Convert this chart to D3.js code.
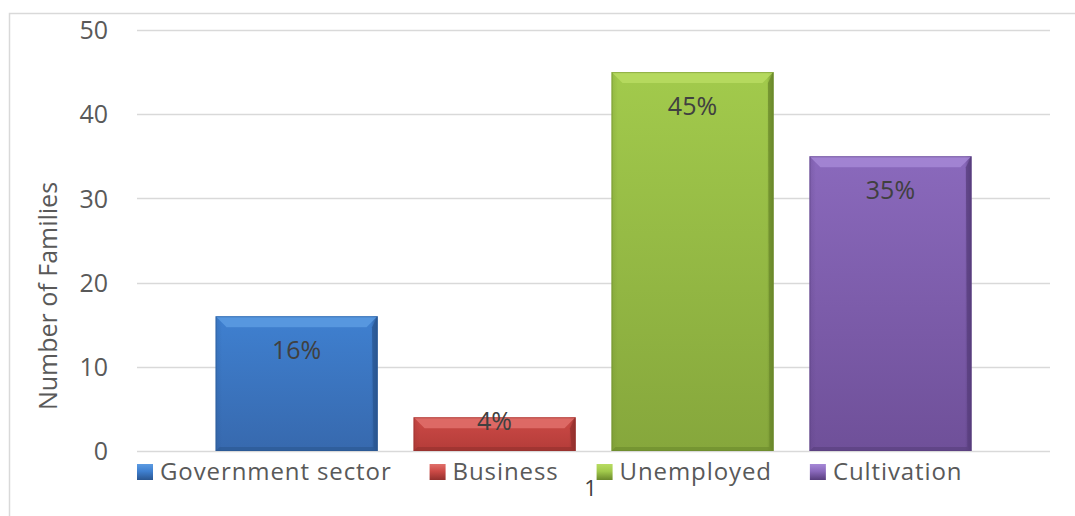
<!DOCTYPE html>
<html>
<head>
<meta charset="utf-8">
<script src="https://cdn.jsdelivr.net/npm/d3@7"></script>
<style>
  html, body { margin: 0; padding: 0; background: #ffffff; }
  svg { display: block; }
  text { font-family: "Open Sans", "DejaVu Sans", sans-serif; }
</style>
</head>
<body>
<svg id="chart" width="1075" height="516"></svg>
<script>
// Occupation of families: count per occupation, single category "1"
const categories = ["1"];
const series = ["Government sector", "Business", "Unemployed", "Cultivation"];
const values = [16, 4, 45, 35];
const percentLabels = ["16%", "4%", "45%", "35%"];
const yTicks = [0, 10, 20, 30, 40, 50];

// Bevel palette per series: [top bevel, fill top, fill bottom, edge]
const palette = [
  ["#5c9be2", "#3f80d0", "#3769ae", "#2a5690"],
  ["#e0706b", "#cc4a46", "#b43c39", "#93302d"],
  ["#b8dc62", "#a2ca4c", "#86a73c", "#6a882b"],
  ["#a688d6", "#8a69bc", "#6f5099", "#573d7c"]
];

const W = 1075, H = 516;
const plot = { left: 137, right: 1050, top: 30, bottom: 451 };

const svg = d3.select("#chart");
const defs = svg.append("defs");

// Chart area outline (top and left edges visible)
svg.append("rect")
  .attr("x", 9.5).attr("y", 13.5)
  .attr("width", W + 20).attr("height", H + 20)
  .attr("fill", "none").attr("stroke", "#d9d9d9").attr("stroke-width", 1.5);

const y = d3.scaleLinear().domain([0, 50]).range([plot.bottom, plot.top]);

const x0 = d3.scaleBand().domain(categories)
  .range([plot.left, plot.right]).paddingInner(0).paddingOuter(0.104);
const x1 = d3.scaleBand().domain(series)
  .range([0, x0.bandwidth()]).paddingInner(0.182).paddingOuter(0);

// Gridlines
svg.append("g").selectAll("line").data(yTicks).join("line")
  .attr("x1", plot.left).attr("x2", plot.right)
  .attr("y1", d => Math.round(y(d)) + 0.5).attr("y2", d => Math.round(y(d)) + 0.5)
  .attr("stroke", "#d9d9d9").attr("stroke-width", 1.5);

// Y axis labels
const yAxis = d3.axisLeft(y).tickValues(yTicks).tickSize(0).tickPadding(0);
const gy = svg.append("g").attr("transform", `translate(108,0)`).call(yAxis);
gy.select(".domain").remove();
gy.selectAll("text")
  .attr("fill", "#595959").attr("font-size", 25)
  .attr("dy", "0.35em")
  .style("font-family", "'Open Sans', sans-serif");

// Axis title
svg.append("text")
  .attr("transform", `translate(57,296) rotate(-90)`)
  .attr("text-anchor", "middle")
  .attr("fill", "#595959").attr("font-size", 25)
  .text("Number of Families");

// Gradients
series.forEach((s, i) => {
  const g = defs.append("linearGradient").attr("id", "fill" + i)
    .attr("x1", 0).attr("y1", 0).attr("x2", 0).attr("y2", 1);
  g.append("stop").attr("offset", "0%").attr("stop-color", palette[i][1]);
  g.append("stop").attr("offset", "100%").attr("stop-color", palette[i][2]);
  const h = defs.append("linearGradient").attr("id", "side" + i)
    .attr("x1", 0).attr("y1", 0).attr("x2", 1).attr("y2", 0);
  h.append("stop").attr("offset", "0%").attr("stop-color", palette[i][3]).attr("stop-opacity", 0.25);
  h.append("stop").attr("offset", "4%").attr("stop-color", palette[i][3]).attr("stop-opacity", 0);
  h.append("stop").attr("offset", "96%").attr("stop-color", palette[i][3]).attr("stop-opacity", 0);
  h.append("stop").attr("offset", "100%").attr("stop-color", palette[i][3]).attr("stop-opacity", 0.9);
});

const bars = series.map((s, i) => ({ name: s, value: values[i], label: percentLabels[i], i }));

const group = svg.append("g")
  .selectAll("g").data(categories).join("g")
  .attr("transform", d => `translate(${x0(d)},0)`);

const bar = group.selectAll("g.bar").data(bars).join("g").attr("class", "bar");

bar.each(function (d) {
  const g = d3.select(this);
  const bx = x1(d.name), bw = x1.bandwidth();
  const top = y(d.value), bot = y(0), bh = bot - top;
  const bev = Math.min(11, bh / 3);
  const side = 4;
  g.append("rect").attr("x", bx).attr("y", top).attr("width", bw).attr("height", bh)
    .attr("fill", `url(#fill${d.i})`);
  g.append("rect").attr("x", bx).attr("y", top).attr("width", bw).attr("height", bh)
    .attr("fill", `url(#side${d.i})`);
  // top bevel
  g.append("path")
    .attr("d", `M${bx},${top}L${bx + bw},${top}L${bx + bw - bev},${top + bev}L${bx + bev},${top + bev}Z`)
    .attr("fill", palette[d.i][0]).attr("opacity", 0.85);
  // bottom bevel
  g.append("path")
    .attr("d", `M${bx},${bot}L${bx + bw},${bot}L${bx + bw - side},${bot - side}L${bx + side},${bot - side}Z`)
    .attr("fill", palette[d.i][3]).attr("opacity", 0.6);
  // right edge
  g.append("path")
    .attr("d", `M${bx + bw},${top}L${bx + bw},${bot}L${bx + bw - side},${bot - side}L${bx + bw - bev / 2},${top + bev}Z`)
    .attr("fill", palette[d.i][3]).attr("opacity", 0.7);
  // outline
  g.append("rect").attr("x", bx + 0.5).attr("y", top + 0.5).attr("width", bw - 1).attr("height", bh - 1)
    .attr("fill", "none").attr("stroke", palette[d.i][3]).attr("stroke-opacity", 0.5);
  // value label
  g.append("text")
    .attr("x", bx + bw / 2)
    .attr("y", top + Math.min(43, bh * 0.38))
    .attr("text-anchor", "middle")
    .attr("fill", "#404040").attr("font-size", 25)
    .text(d.label);
});

// Category label
svg.append("text")
  .attr("x", x0("1") + x0.bandwidth() / 2 - 3).attr("y", 496)
  .attr("text-anchor", "middle")
  .attr("fill", "#404040").attr("font-size", 22)
  .text(categories[0]);

// Legend
const legend = svg.append("g");
let lx = plot.left;
series.forEach((s, i) => {
  const item = legend.append("g").attr("transform", `translate(${lx},0)`);
  const lg = defs.append("linearGradient").attr("id", "leg" + i)
    .attr("x1", 0).attr("y1", 0).attr("x2", 0).attr("y2", 1);
  lg.append("stop").attr("offset", "0%").attr("stop-color", palette[i][0]);
  lg.append("stop").attr("offset", "45%").attr("stop-color", palette[i][1]);
  lg.append("stop").attr("offset", "100%").attr("stop-color", palette[i][3]);
  item.append("rect").attr("x", 0).attr("y", 464).attr("width", 16).attr("height", 16)
    .attr("fill", `url(#leg${i})`);
  const t = item.append("text").attr("x", 23).attr("y", 480)
    .attr("fill", "#595959").attr("font-size", 24)
    .attr("letter-spacing", 0.9).text(s);
  lx += 23 + t.node().getComputedTextLength() + 38;
});
</script>
</body>
</html>
